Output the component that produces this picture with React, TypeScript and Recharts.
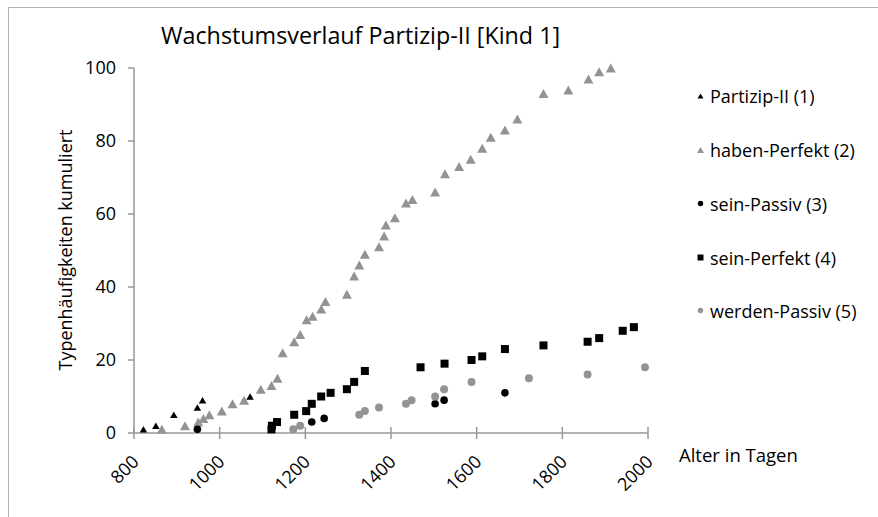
import React from 'react';
import { ScatterChart, Scatter, XAxis, YAxis } from 'recharts';

const FONT = '"Open Sans", "Noto Sans", sans-serif';
const AXIS = '#999999';
const GRAY = '#939393';

const xTicks = [800, 1000, 1200, 1400, 1600, 1800, 2000];
const yTicks = [0, 20, 40, 60, 80, 100];

const partizipX = [822, 851, 893, 948, 960, 1071];
const partizipY = [1, 2, 5, 7, 9, 10];

const habenX = [865, 919, 950, 962, 976, 1005, 1030, 1057, 1096, 1121, 1135, 1147, 1174, 1188, 1203, 1217, 1237, 1247, 1297, 1314, 1326, 1339, 1372, 1384, 1388, 1409, 1435, 1450, 1503, 1526, 1559, 1586, 1613, 1633, 1666, 1695, 1756, 1814, 1861, 1886, 1913];
const habenY = [1, 2, 3, 4, 5, 6, 8, 9, 12, 13, 15, 22, 25, 27, 31, 32, 34, 36, 38, 43, 46, 49, 51, 54, 57, 59, 63, 64, 66, 71, 73, 75, 78, 81, 83, 86, 93, 94, 97, 99, 100];

const seinPassivX = [948, 1215, 1244, 1503, 1524, 1666];
const seinPassivY = [1, 3, 4, 8, 9, 11];

const seinPerfektX = [1121, 1122, 1134, 1174, 1202, 1215, 1237, 1259, 1297, 1314, 1339, 1469, 1525, 1588, 1613, 1666, 1756, 1859, 1886, 1941, 1967];
const seinPerfektY = [1, 2, 3, 5, 6, 8, 10, 11, 12, 14, 17, 18, 19, 20, 21, 23, 24, 25, 26, 28, 29];

const werdenX = [1172, 1188, 1326, 1339, 1372, 1435, 1448, 1503, 1524, 1588, 1722, 1859, 1993];
const werdenY = [1, 2, 5, 6, 7, 8, 9, 10, 12, 14, 15, 16, 18];

const zip = (xs: number[], ys: number[]) => xs.map((x, i) => ({ x, y: ys[i] }));

const tri = (w: number, h: number, fill: string) => (props: any) => {
  const { cx, cy } = props;
  if (cx == null || cy == null) return null;
  return (
    <path
      d={`M${cx},${cy - h / 2}L${cx + w / 2},${cy + h / 2}L${cx - w / 2},${cy + h / 2}Z`}
      fill={fill}
    />
  );
};
const circ = (r: number, fill: string) => (props: any) => {
  const { cx, cy } = props;
  if (cx == null || cy == null) return null;
  return <circle cx={cx} cy={cy} r={r} fill={fill} />;
};
const sq = (s: number, fill: string) => (props: any) => {
  const { cx, cy } = props;
  if (cx == null || cy == null) return null;
  return <rect x={cx - s / 2} y={cy - s / 2} width={s} height={s} fill={fill} />;
};

const series = [
  { name: 'Partizip-II (1)', data: zip(partizipX, partizipY), shape: tri(7.5, 6.5, '#000'), legend: 'tri', color: '#000' },
  { name: 'haben-Perfekt (2)', data: zip(habenX, habenY), shape: tri(10, 9, GRAY), legend: 'tri', color: GRAY },
  { name: 'sein-Passiv (3)', data: zip(seinPassivX, seinPassivY), shape: circ(3.8, '#000'), legend: 'circ', color: '#000' },
  { name: 'sein-Perfekt (4)', data: zip(seinPerfektX, seinPerfektY), shape: sq(8, '#000'), legend: 'sq', color: '#000' },
  { name: 'werden-Passiv (5)', data: zip(werdenX, werdenY), shape: circ(4, GRAY), legend: 'circ', color: GRAY },
];

const XTick = (props: any) => {
  const { x, y, payload } = props;
  const ax = x + 6;
  const ay = y + 30;
  return (
    <g>
      <line x1={x} x2={x} y1={y - 6} y2={y + 6} stroke={AXIS} strokeWidth={1.5} />
      <text
        x={ax}
        y={ay}
        textAnchor="end"
        transform={`rotate(-45 ${ax} ${ay})`}
        fontFamily={FONT}
        fontSize={18}
        fill="#000"
      >
        {payload.value}
      </text>
    </g>
  );
};

const legendY = [96, 150, 203.5, 257.5, 310.5];

export default function App() {
  return (
    <div style={{ position: 'absolute', left: 0, top: 0, width: 878, height: 517, overflow: 'hidden', background: '#fff' }}>
      <div
        style={{
          position: 'absolute',
          left: 8,
          top: 7,
          width: 900,
          height: 540,
          border: '1px solid #b3b3b3',
          boxSizing: 'border-box',
        }}
      />
      <div style={{ position: 'absolute', left: 0, top: 0 }}>
        <ScatterChart width={878} height={517} margin={{ top: 68, right: 230, bottom: 0, left: 0 }}>
          <XAxis
            type="number"
            dataKey="x"
            domain={[800, 2000]}
            ticks={xTicks}
            interval={0}
            height={84}
            tickSize={0}
            tickMargin={0}
            tickLine={false}
            axisLine={{ stroke: AXIS, strokeWidth: 1.5 }}
            tick={<XTick />}
          />
          <YAxis
            type="number"
            dataKey="y"
            domain={[0, 100]}
            ticks={yTicks}
            interval={0}
            width={134}
            tickSize={6}
            tickMargin={12}
            axisLine={{ stroke: AXIS, strokeWidth: 1.5 }}
            tickLine={{ stroke: AXIS, strokeWidth: 1.5 }}
            tick={{ fill: '#000', fontSize: 18, fontFamily: FONT }}
          />
          {series.map((s) => (
            <Scatter
              key={s.name}
              name={s.name}
              data={s.data}
              fill={s.color}
              shape={s.shape}
              isAnimationActive={false}
            />
          ))}
        </ScatterChart>
      </div>
      <svg width={878} height={517} style={{ position: 'absolute', left: 0, top: 0, pointerEvents: 'none' }}>
        <text x={161} y={43.5} fontFamily={FONT} fontSize={23.3} fill="#000">
          Wachstumsverlauf Partizip-II [Kind 1]
        </text>
        <text
          x={72}
          y={250}
          textAnchor="middle"
          transform="rotate(-90 72 250)"
          fontFamily={FONT}
          fontSize={18}
          fill="#000"
        >
          Typenhäufigkeiten kumuliert
        </text>
        <text x={679} y={462} fontFamily={FONT} fontSize={18.5} fill="#000">
          Alter in Tagen
        </text>
        {series.map((s, i) => {
          const cy = legendY[i];
          const cx = 700.5;
          let marker: any = null;
          if (s.legend === 'tri') {
            const w = i === 0 ? 6 : 7;
            const h = i === 0 ? 5 : 6;
            marker = <path d={`M${cx},${cy - h / 2}L${cx + w / 2},${cy + h / 2}L${cx - w / 2},${cy + h / 2}Z`} fill={s.color} />;
          } else if (s.legend === 'circ') {
            marker = <circle cx={cx} cy={cy} r={2.7} fill={s.color} />;
          } else {
            marker = <rect x={cx - 3} y={cy - 3} width={6} height={6} fill={s.color} />;
          }
          return (
            <g key={s.name}>
              {marker}
              <text x={710} y={cy + 7.3} fontFamily={FONT} fontSize={18} fill="#000">
                {s.name}
              </text>
            </g>
          );
        })}
      </svg>
    </div>
  );
}
